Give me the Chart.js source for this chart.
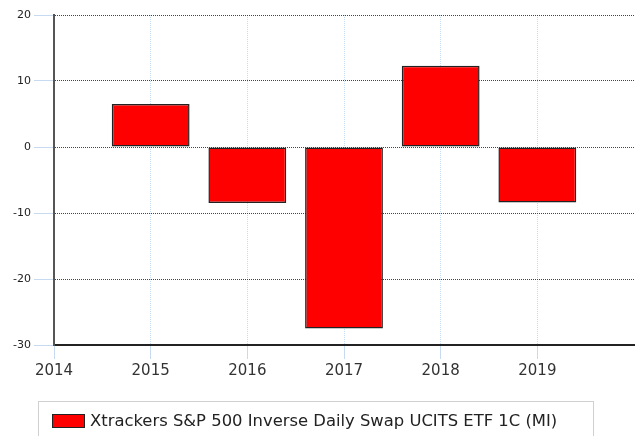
<!DOCTYPE html>
<html>
<head>
<meta charset="utf-8">
<script src="https://cdn.jsdelivr.net/npm/chart.js@4/dist/chart.umd.min.js"></script>
<style>
  html, body { margin: 0; padding: 0; background: #fff; }
  #wrap { position: relative; width: 637px; height: 436px; overflow: hidden; }
  #legend {
    position: absolute; left: 38px; top: 401px; width: 556px; height: 44px;
    border: 1px solid #d0d0d0; box-sizing: border-box;
    font: 16.4px "DejaVu Sans", sans-serif; color: #222;
  }
  #legend .sw {
    position: absolute; left: 13px; top: 12px; width: 33px; height: 14px;
    border: 1px solid #222; box-sizing: border-box;
  }
  #legend .txt { position: absolute; left: 51px; top: 9px; white-space: nowrap; }
</style>
</head>
<body>
<div id="wrap">
  <canvas id="perfChart" width="637" height="436"></canvas>
  <div id="legend"></div>
</div>
<script>
// Yearly returns (%)
const years = ['2014', '2015', '2016', '2017', '2018', '2019', '2020'];
const returns = [null, 6.5, -8.5, -27.5, 12.3, -8.4, null];
const seriesName = 'Xtrackers S&P 500 Inverse Daily Swap UCITS ETF 1C (MI)';
const yTicks = [-30, -20, -10, 0, 10, 20];

(function () {
  'use strict';

  const barColor = '#ff0000';
  const barEdge = '#222222';
  const blueGrid = '#c6daf1';

  // last year only closes the axis, no line or label for it
  function isLast(c) {
    return c.index === years.length - 1;
  }

  /**
   * Simple HTML legend built from the chart's dataset.
   */
  function buildLegend(chart) {
    const box = document.getElementById('legend');
    box.innerHTML = '';
    chart.data.datasets.forEach(function (ds) {
      const sw = document.createElement('span');
      sw.className = 'sw';
      sw.style.background = ds.backgroundColor;
      const txt = document.createElement('span');
      txt.className = 'txt';
      txt.textContent = ds.label;
      box.appendChild(sw);
      box.appendChild(txt);
    });
  }

  const ctx = document.getElementById('perfChart');
  const chart = new Chart(ctx, {
    type: 'bar',
    data: {
      labels: years,
      datasets: [
        {
          label: seriesName,
          data: returns,
          backgroundColor: barColor,
          borderColor: barEdge,
          borderWidth: 1.5,
          borderSkipped: false,
          categoryPercentage: 1,
          barPercentage: 0.805,
        },
      ],
    },
    options: {
      responsive: false,
      animation: false,
      layout: { padding: { top: 15, right: 1, bottom: 0, left: 0 } },
      plugins: {
        legend: { display: false },
        tooltip: { enabled: false },
      },
      scales: {
        x: {
          offset: false,
          grid: {
            offset: false,
            color: function (c) { return isLast(c) ? 'rgba(0,0,0,0)' : blueGrid; },
            tickColor: function (c) { return isLast(c) ? 'rgba(0,0,0,0)' : blueGrid; },
            tickLength: 14,
            lineWidth: 1,
          },
          border: { display: true, color: '#222', width: 2, dash: [1, 1] },
          ticks: {
            padding: 3,
            maxRotation: 0,
            autoSkip: false,
            color: '#333',
            font: { family: 'DejaVu Sans', size: 15 },
            callback: function (val, i) {
              return i === years.length - 1 ? '' : years[i];
            },
          },
          afterFit: function (scale) {
            scale.height = 91;
          },
        },
        y: {
          min: -30,
          max: 20,
          afterBuildTicks: function (scale) {
            scale.ticks = yTicks.map(function (v) { return { value: v }; });
          },
          grid: {
            color: '#444',
            tickColor: blueGrid,
            tickLength: 20,
            lineWidth: 1,
          },
          border: { display: true, color: '#555', width: 2, dash: [1, 1] },
          ticks: {
            padding: 3,
            color: '#222',
            font: { family: 'DejaVu Sans', size: 11 },
          },
          afterFit: function (scale) {
            scale.width = 54;
          },
        },
      },
    },
  });

  buildLegend(chart);
})();
</script>
</body>
</html>
